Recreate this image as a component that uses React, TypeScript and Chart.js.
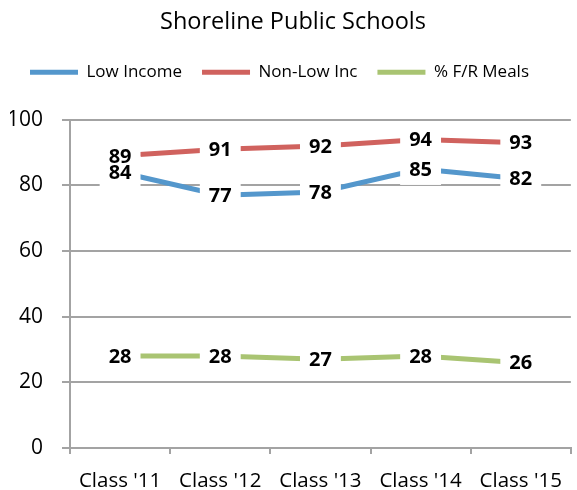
import React, { useEffect, useRef } from 'react';
import { Chart, registerables } from 'chart.js';

Chart.register(...registerables);

const categories = ["Class '11", "Class '12", "Class '13", "Class '14", "Class '15"];
const lowIncome = [84, 77, 78, 85, 82];
const nonLowInc = [89, 91, 92, 94, 93];
const frMeals = [28, 28, 27, 28, 26];
const seriesNames = ['Low Income', 'Non-Low Inc', '% F/R Meals'];
const seriesColors = ['#5497CC', '#D0625E', '#A9C472'];
const yMin = 0;
const yMax = 100;
const yStep = 20;
const titleText = 'Shoreline Public Schools';

const FONT = "'Open Sans', sans-serif";
const GRID = '#A3A3A3';

const valueLabels = {
  id: 'valueLabels',
  afterDatasetsDraw(chart: any) {
    const ctx = chart.ctx;
    ctx.save();
    ctx.font = `bold 20px ${FONT}`;
    ctx.textAlign = 'center';
    ctx.textBaseline = 'middle';
    const items: any[] = [];
    chart.data.datasets.forEach((ds: any, i: number) => {
      const meta = chart.getDatasetMeta(i);
      meta.data.forEach((pt: any, j: number) => {
        const txt = String(ds.data[j]);
        const w = ctx.measureText(txt).width + 18;
        items.push({ x: pt.x, y: pt.y, txt, w });
      });
    });
    ctx.fillStyle = '#ffffff';
    items.forEach((it) => ctx.fillRect(it.x - it.w / 2, it.y - 16, it.w, 32));
    ctx.fillStyle = '#000000';
    items.forEach((it) => ctx.fillText(it.txt, it.x, it.y + 1));
    ctx.restore();
  },
};

export default function App() {
  const ref = useRef<HTMLCanvasElement | null>(null);

  useEffect(() => {
    if (!ref.current) return;
    const data = [lowIncome, nonLowInc, frMeals];
    const chart = new Chart(ref.current, {
      type: 'line',
      data: {
        labels: categories,
        datasets: data.map((d, i) => ({
          label: seriesNames[i],
          data: d,
          borderColor: seriesColors[i],
          backgroundColor: seriesColors[i],
          borderWidth: 5,
          pointRadius: 0,
          tension: 0,
          fill: false,
        })),
      },
      options: {
        responsive: false,
        animation: false,
        devicePixelRatio: 1,
        layout: { padding: { left: 10, right: 1, top: 0, bottom: 0 } },
        plugins: {
          title: {
            display: true,
            text: titleText,
            color: '#000',
            font: { family: FONT, size: 23.5, weight: 'normal' as any, lineHeight: 1.2 },
            padding: { top: 8, bottom: 7.5 },
          },
          subtitle: {
            display: true,
            text: '',
            weight: 500,
            font: { family: FONT, size: 10, lineHeight: 1 },
            padding: { top: 19, bottom: 0 },
          } as any,
          legend: {
            display: true,
            align: 'start',
            labels: {
              color: '#000',
              font: { family: FONT, size: 17 },
              boxWidth: 48,
              boxHeight: 5,
              padding: 20,
              useBorderRadius: true,
              borderRadius: 2.5,
              generateLabels: (c: any) =>
                c.data.datasets.map((ds: any, i: number) => ({
                  text: ds.label,
                  fillStyle: ds.borderColor,
                  strokeStyle: ds.borderColor,
                  lineWidth: 0,
                  hidden: false,
                  datasetIndex: i,
                  fontColor: '#000',
                })),
            },
          } as any,
          tooltip: { enabled: false },
        },
        scales: {
          x: {
            offset: true,
            grid: {
              offset: true,
              drawOnChartArea: false,
              drawTicks: true,
              tickLength: 6,
              color: GRID,
              lineWidth: 2,
            },
            border: { display: true, color: GRID, width: 2 },
            ticks: {
              color: '#000',
              font: { family: FONT, size: 20.5 },
              padding: 15,
              maxRotation: 0,
            },
            afterFit: (s: any) => {
              s.height = 42;
            },
          },
          y: {
            min: yMin,
            max: yMax,
            grid: {
              color: GRID,
              lineWidth: 2,
              drawTicks: true,
              tickLength: 8,
            },
            border: { display: true, color: GRID, width: 2 },
            ticks: {
              stepSize: yStep,
              color: '#000',
              font: { family: FONT, size: 21 },
              padding: 19,
            },
            afterFit: (s: any) => {
              s.width = 60;
            },
          },
        },
      },
      plugins: [valueLabels],
    });
    return () => chart.destroy();
  }, []);

  return (
    <div style={{ position: 'absolute', left: 0, top: 0, width: 577, height: 490, background: '#fff' }}>
      <canvas ref={ref} width={577} height={490} />
    </div>
  );
}
